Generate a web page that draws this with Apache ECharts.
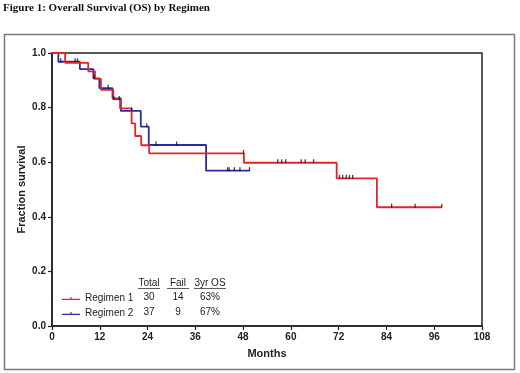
<!DOCTYPE html>
<html>
<head>
<meta charset="utf-8">
<script src="https://cdn.jsdelivr.net/npm/echarts@6/dist/echarts.min.js"></script>
<style>
  html, body { margin: 0; padding: 0; background: #fff; }
  #chart { width: 520px; height: 373px; }
</style>
</head>
<body>
<div id="chart"></div>
<script>
// Kaplan-Meier steps: time of each event (months) and survival after it
var reg1Times = [0, 3.3, 9.1, 10.8, 12.3, 15.4, 17.1, 20.0, 20.9, 22.4, 24.4, 48.2, 71.5, 81.6, 97.9];
var reg1Surv  = [1, 0.964, 0.933, 0.905, 0.865, 0.830, 0.797, 0.742, 0.696, 0.662, 0.632, 0.598, 0.541, 0.435, 0.435];
var reg1Censor = [15.5, 16.9, 48.1, 56.7, 57.7, 58.7, 62.6, 63.6, 65.7, 72.2, 73.0, 73.9, 74.7, 75.5, 85.3, 91.2, 97.9];

var reg2Times = [0, 1.6, 7.0, 10.4, 11.9, 15.2, 17.3, 22.3, 24.3, 38.7, 49.6];
var reg2Surv  = [1, 0.968, 0.941, 0.907, 0.871, 0.834, 0.788, 0.730, 0.663, 0.569, 0.569];
var reg2Censor = [2.2, 5.8, 6.4, 10.6, 14.1, 20.0, 23.8, 26.1, 31.3, 44.1, 44.5, 45.8, 47.2, 49.6];

var groups = ['Regimen 1', 'Regimen 2'];
var totals = ['30', '37'];
var fails = ['14', '9'];
var os3yr = ['63%', '67%'];
var tableHeads = ['Total', 'Fail', '3yr OS'];

var colors = ['#e3242b', '#2b2ba6'];

function pairs(t, s) {
    return t.map(function (x, i) { return [x, s[i]]; });
}
function censorPts(ct, t, s) {
    return ct.map(function (c) {
        var v = s[0];
        for (var i = 0; i < t.length; i++) { if (t[i] <= c) v = s[i]; }
        return [c, v];
    });
}

var myChart = echarts.init(document.getElementById('chart'));

var tickIcon = 'path://M0,4h20v1.6h-20zM9.4,2h1.2v3.6h-1.2z';
var colX = [149, 178, 210];
var rowY = [297, 312];
var txtFont = '10px "Liberation Sans", Arial';
var graphics = [
    { type: 'rect', shape: { x: 4.5, y: 34.5, width: 510, height: 335 },
      style: { fill: 'none', stroke: '#7a7a7a', lineWidth: 1.5 }, silent: true }
];
tableHeads.forEach(function (h, i) {
    graphics.push({ type: 'text', x: colX[i], y: 283,
        style: { text: h, fill: '#222', font: txtFont, align: 'center', verticalAlign: 'middle' } });
});
// underlines under headers
[[138, 160], [167, 189], [194, 226]].forEach(function (u) {
    graphics.push({ type: 'line', shape: { x1: u[0], y1: 288.5, x2: u[1], y2: 288.5 },
        style: { stroke: '#333', lineWidth: 0.8 } });
});
[totals, fails, os3yr].forEach(function (col, i) {
    col.forEach(function (v, r) {
        graphics.push({ type: 'text', x: colX[i], y: rowY[r],
            style: { text: v, fill: '#222', font: txtFont, align: 'center', verticalAlign: 'middle' } });
    });
});

var option = {
    animation: false,
    title: {
        text: 'Figure 1: Overall Survival (OS) by Regimen',
        left: 3,
        top: 3,
        padding: 0,
        textStyle: { fontFamily: '"Liberation Serif", "Times New Roman", serif', fontWeight: 'bold', fontSize: 11, color: '#111' }
    },
    grid: {
        left: 52, top: 53, right: 38, bottom: 47,
        show: true, borderColor: '#222', borderWidth: 1.5
    },
    legend: {
        data: groups,
        orient: 'vertical',
        left: 57,
        top: 287,
        itemGap: 2,
        itemWidth: 18,
        itemHeight: 7,
        icon: tickIcon,
        textStyle: { fontFamily: '"Liberation Sans", Arial', fontSize: 10, color: '#222', lineHeight: 13 }
    },
    xAxis: {
        type: 'value',
        min: 0, max: 108, interval: 12,
        name: 'Months',
        nameLocation: 'middle',
        nameGap: 22,
        nameMoveOverlap: false,
        nameTextStyle: { fontFamily: '"Liberation Sans", Arial', fontWeight: 'bold', fontSize: 11, color: '#222' },
        axisLine: { lineStyle: { color: '#222', width: 1.5 } },
        axisTick: { length: 4, lineStyle: { color: '#222', width: 1.2 } },
        axisLabel: { fontFamily: '"Liberation Sans", Arial', fontWeight: 'bold', fontSize: 10, color: '#222', margin: 6 },
        splitLine: { show: false }
    },
    yAxis: {
        type: 'value',
        min: 0, max: 1, interval: 0.2,
        name: 'Fraction survival',
        nameLocation: 'middle',
        nameGap: 25,
        nameMoveOverlap: false,
        nameTextStyle: { fontFamily: '"Liberation Sans", Arial', fontWeight: 'bold', fontSize: 11, color: '#222' },
        axisLine: { show: true, lineStyle: { color: '#222', width: 1.5 } },
        axisTick: { show: true, length: 4, lineStyle: { color: '#222', width: 1.2 } },
        axisLabel: { fontFamily: '"Liberation Sans", Arial', fontWeight: 'bold', fontSize: 10, color: '#222', margin: 6,
            formatter: function (v) { return v.toFixed(1); } },
        splitLine: { show: false }
    },
    series: [
        { name: groups[0], type: 'line', step: 'end', showSymbol: false, symbol: 'none',
          data: pairs(reg1Times, reg1Surv), color: colors[0], lineStyle: { width: 1.8 }, z: 3 },
        { name: groups[1], type: 'line', step: 'end', showSymbol: false, symbol: 'none',
          data: pairs(reg2Times, reg2Surv), color: colors[1], lineStyle: { width: 1.8 }, z: 2 },
        { name: 'c1', type: 'scatter', data: censorPts(reg1Censor, reg1Times, reg1Surv),
          symbol: 'rect', symbolSize: [1.3, 4], symbolOffset: [0, -1.5], itemStyle: { color: '#111' }, z: 4 },
        { name: 'c2', type: 'scatter', data: censorPts(reg2Censor, reg2Times, reg2Surv),
          symbol: 'rect', symbolSize: [1.3, 4], symbolOffset: [0, -1.5], itemStyle: { color: '#111' }, z: 4 }
    ],
    graphic: graphics
};

myChart.setOption(option);
window.addEventListener('resize', function () {
    myChart.resize();
});
</script>
</body>
</html>
